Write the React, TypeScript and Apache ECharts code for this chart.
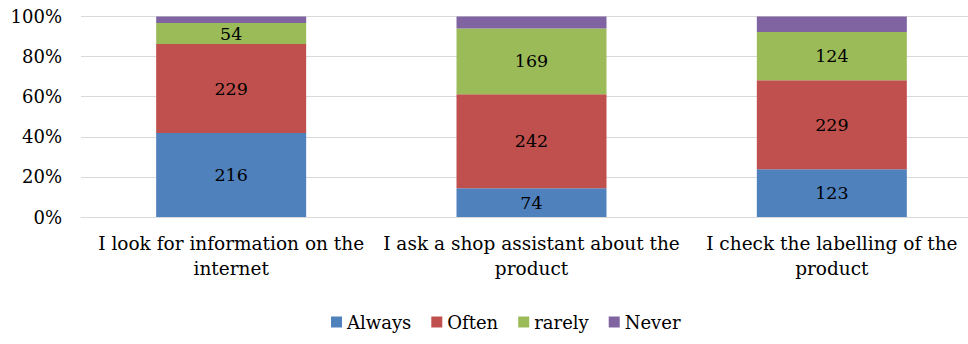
import React, { useEffect, useRef } from "react";
import * as echarts from "echarts";

const categories = [
  "I look for information on the\ninternet",
  "I ask a shop assistant about the\nproduct",
  "I check the labelling of the\nproduct",
];
const seriesNames = ["Always", "Often", "rarely", "Never"];
const always = [216, 74, 123];
const often = [229, 242, 229];
const rarely = [54, 169, 124];
const never = [17, 31, 40];
const colors = ["#4F81BD", "#C0504D", "#9BBB59", "#8064A2"];
const yTicks = [0, 20, 40, 60, 80, 100];

const FONT = "DejaVu Serif";

export default function App() {
  const ref = useRef<HTMLDivElement>(null);
  useEffect(() => {
    if (!ref.current) return;
    const chart = echarts.init(ref.current, undefined, { renderer: "svg" });
    const raw = [always, often, rarely, never];
    const totals = categories.map((_, i) => raw.reduce((s, arr) => s + arr[i], 0));
    const series = raw.map((arr, si) => ({
      name: seriesNames[si],
      type: "bar",
      stack: "total",
      barWidth: 150,
      itemStyle: { color: colors[si] },
      label: {
        show: si < 3,
        position: "inside",
        color: "#000",
        fontFamily: FONT,
        fontSize: 17.5,
        formatter: (p: any) => String(arr[p.dataIndex]),
      },
      data: arr.map((v, i) => (v / totals[i]) * 100),
    }));
    chart.setOption({
      animation: false,
      textStyle: { fontFamily: FONT },
      grid: { left: 81, right: 0, top: 16.5, bottom: 127, containLabel: false },
      legend: {
        bottom: 8,
        left: 326,
        itemWidth: 11,
        itemHeight: 11,
        itemGap: 20,
        icon: "rect",
        textStyle: { fontFamily: FONT, fontSize: 18, color: "#000" },
        data: seriesNames,
      },
      xAxis: {
        type: "category",
        data: categories,
        axisLine: { show: true, lineStyle: { color: "#d9d9d9", width: 1 } },
        axisTick: { show: false },
        axisLabel: {
          interval: 0,
          margin: 14,
          color: "#000",
          fontFamily: FONT,
          fontSize: 18.5,
          lineHeight: 25,
        },
      },
      yAxis: {
        type: "value",
        min: 0,
        max: 100,
        interval: 20,
        axisLine: { show: false },
        axisTick: { show: false },
        splitLine: { lineStyle: { color: "#d9d9d9", width: 1 } },
        axisLabel: {
          margin: 19,
          color: "#000",
          fontFamily: FONT,
          fontSize: 18,
          formatter: (v: number) => (yTicks.includes(v) ? `${v}%` : ""),
        },
      },
      series,
    });
    return () => chart.dispose();
  }, []);
  return (
    <div
      ref={ref}
      style={{ position: "fixed", left: 0, top: 0, width: 982, height: 344, background: "#fff" }}
    />
  );
}
